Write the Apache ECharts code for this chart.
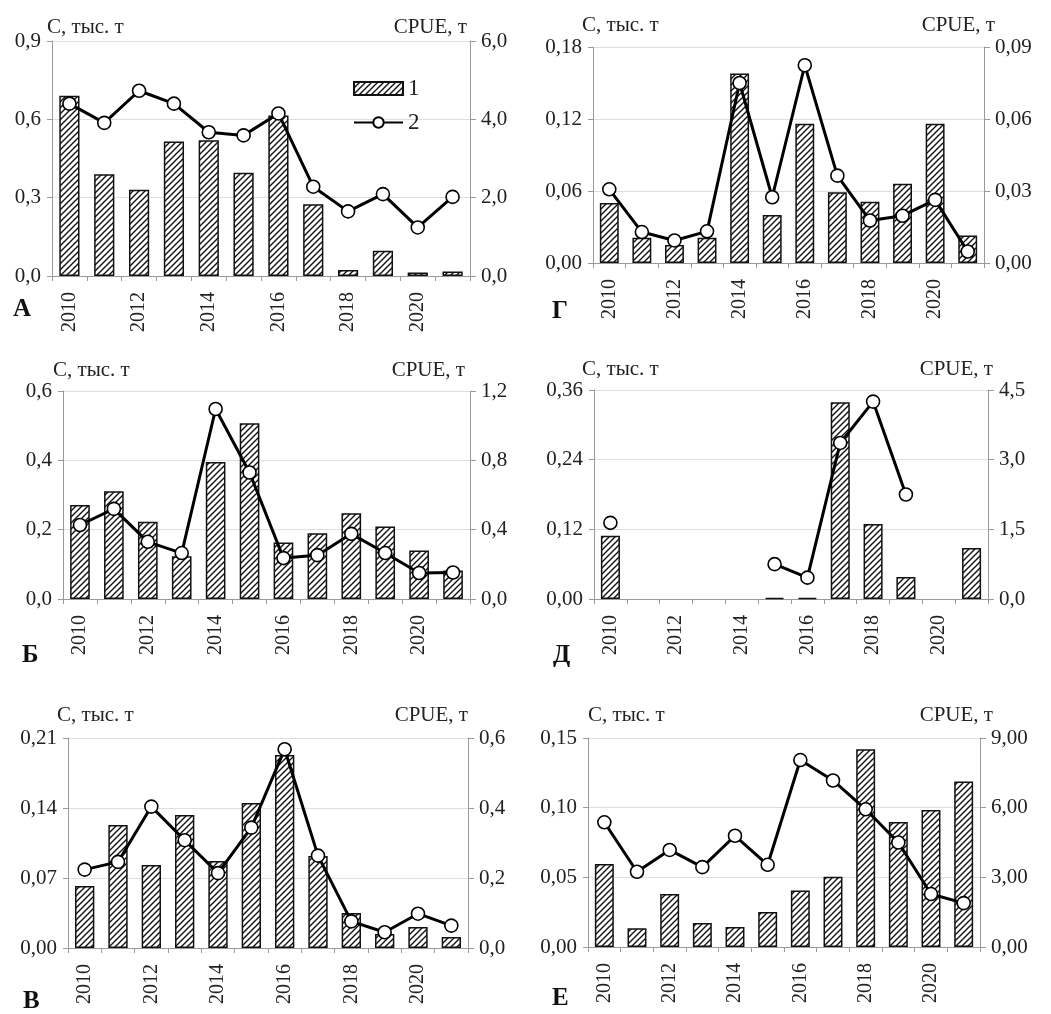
<!DOCTYPE html>
<html>
<head>
<meta charset="utf-8">
<script src="https://cdn.jsdelivr.net/npm/echarts@6/dist/echarts.min.js"></script>
<style>
html,body{margin:0;padding:0;background:#fff;}
#chart{width:1051px;height:1014px;}
</style>
</head>
<body>
<div id="chart"></div>
<script>
// ---------- DATA ----------
const years = ['2010','2011','2012','2013','2014','2015','2016','2017','2018','2019','2020','2021'];

// Panel А
const catchA = [0.69, 0.39, 0.33, 0.515, 0.52, 0.395, 0.615, 0.275, 0.023, 0.097, 0.013, 0.017];
const cpueA  = [4.40, 3.91, 4.73, 4.40, 3.67, 3.59, 4.15, 2.28, 1.65, 2.09, 1.24, 2.02];
// Panel Б
const catchB = [0.271, 0.311, 0.223, 0.123, 0.395, 0.507, 0.163, 0.190, 0.247, 0.209, 0.140, 0.082];
const cpueB  = [0.427, 0.52, 0.33, 0.265, 1.096, 0.73, 0.236, 0.253, 0.376, 0.265, 0.15, 0.153];
// Panel В
const catchV = [0.062, 0.123, 0.083, 0.133, 0.087, 0.145, 0.193, 0.092, 0.035, 0.014, 0.021, 0.011];
const cpueV  = [0.224, 0.246, 0.404, 0.308, 0.214, 0.344, 0.568, 0.264, 0.076, 0.045, 0.098, 0.064];
// Panel Г
const catchG = [0.050, 0.021, 0.015, 0.021, 0.158, 0.040, 0.116, 0.059, 0.051, 0.066, 0.116, 0.023];
const cpueG  = [0.0307, 0.0129, 0.0094, 0.0132, 0.075, 0.0274, 0.0824, 0.0364, 0.0177, 0.0197, 0.0263, 0.0048];
// Panel Д
const catchD = [0.109, null, null, null, null, 0.002, 0.002, 0.339, 0.129, 0.038, null, 0.088];
const cpueD  = [1.64, null, null, null, null, 0.75, 0.46, 3.36, 4.25, 2.25, null, null];
// Panel Е
const catchE = [0.0595, 0.0134, 0.038, 0.0172, 0.0143, 0.0251, 0.0406, 0.0504, 0.142, 0.0898, 0.0984, 0.1187];
const cpueE  = [5.37, 3.24, 4.18, 3.44, 4.79, 3.54, 8.05, 7.17, 5.93, 4.50, 2.28, 1.89];

const letters = ['А','Г','Б','Д','В','Е'];
const leftName = 'С, тыс. т';
const rightName = 'CPUE, т';
const legendNames = ['1','2'];

// ---------- LAYOUT / SCALES ----------
const panels = [
  {c: catchA, p: cpueA, lmax:0.9,  lint:0.3,  ld:1, rmax:6,    rint:2,    rd:1,
   g:{left:52, top:41, width:418, height:235}, L:[22,311], ng:[14,14], lo:-5, ro:-3},
  {c: catchG, p: cpueG, lmax:0.18, lint:0.06, ld:2, rmax:0.09, rint:0.03, rd:2,
   g:{left:593, top:47, width:391, height:216}, L:[561,313], ng:[22,22], lo:-11, ro:11},
  {c: catchB, p: cpueB, lmax:0.6,  lint:0.2,  ld:1, rmax:1.2,  rint:0.4,  rd:1,
   g:{left:63, top:391, width:407, height:208}, L:[31,657], ng:[21,21], lo:-10, ro:-5},
  {c: catchD, p: cpueD, lmax:0.36, lint:0.12, ld:2, rmax:4.5,  rint:1.5,  rd:1,
   g:{left:594, top:390, width:394, height:209}, L:[562,657], ng:[21,21], lo:-12, ro:5},
  {c: catchV, p: cpueV, lmax:0.21, lint:0.07, ld:2, rmax:0.6,  rint:0.2,  rd:1,
   g:{left:68, top:738, width:400, height:210}, L:[32,1003], ng:[23,23], lo:-11, ro:0},
  {c: catchE, p: cpueE, lmax:0.15, lint:0.05, ld:2, rmax:9,    rint:3,    rd:2,
   g:{left:588, top:738, width:392, height:209}, L:[561,1000], ng:[23,23], lo:0, ro:13}
];

function hatchPattern(){
  const s = 6;
  const c = document.createElement('canvas');
  c.width = s; c.height = s;
  const g = c.getContext('2d');
  g.fillStyle = '#fff'; g.fillRect(0,0,s,s);
  g.strokeStyle = '#111'; g.lineWidth = 1.4;
  g.beginPath();
  g.moveTo(0,s); g.lineTo(s,0);
  g.moveTo(-s/2,s/2); g.lineTo(s/2,-s/2);
  g.moveTo(s/2,s*1.5); g.lineTo(s*1.5,s/2);
  g.stroke();
  return c;
}
const hatch = {image: hatchPattern(), repeat: 'repeat'};

const FONT = '"Liberation Serif", "Times New Roman", serif';
const HFS = 21;   // horizontal text size
const fmt = d => v => v.toFixed(d).replace('.', ',');
const axisGray = '#9a9a9a';

const grid = [], xAxis = [], yAxis = [], series = [], graphic = [];
panels.forEach((P, i) => {
  grid.push(Object.assign({}, P.g));
  xAxis.push({
    type:'category', gridIndex:i, data: years,
    axisLine:{lineStyle:{color:axisGray, width:1}},
    axisTick:{show:true, interval:0, length:5, lineStyle:{color:axisGray}},
    axisLabel:{interval:1, rotate:90, margin:16, fontFamily:FONT, fontSize:20, color:'#222'},
    splitLine:{show:false}
  });
  yAxis.push({
    type:'value', gridIndex:i, min:0, max:P.lmax, interval:P.lint, position:'left',
    name:leftName, nameLocation:'end', nameGap:P.ng[0],
    nameTextStyle:{fontFamily:FONT, fontSize:HFS, color:'#222', align:'left', verticalAlign:'middle', padding:[0,0,0,P.lo]},
    axisLine:{show:true, lineStyle:{color:axisGray}},
    axisTick:{show:true, length:5, lineStyle:{color:axisGray}},
    axisLabel:{formatter:fmt(P.ld), margin:11, fontFamily:FONT, fontSize:HFS, color:'#222'},
    splitLine:{show:true, lineStyle:{color:'#dedede', width:1}}
  });
  yAxis.push({
    type:'value', gridIndex:i, min:0, max:P.rmax, interval:P.rint, position:'right',
    name:rightName, nameLocation:'end', nameGap:P.ng[1],
    nameTextStyle:{fontFamily:FONT, fontSize:HFS, color:'#222', align:'right', verticalAlign:'middle', padding:[0,-P.ro,0,0]},
    axisLine:{show:true, lineStyle:{color:axisGray}},
    axisTick:{show:true, length:6, lineStyle:{color:axisGray}},
    axisLabel:{formatter:fmt(P.rd), margin:11, fontFamily:FONT, fontSize:HFS, color:'#222'},
    splitLine:{show:false}
  });
  series.push({
    name: i === 0 ? legendNames[0] : 'c' + i,
    type:'bar', xAxisIndex:i, yAxisIndex:2*i, data:P.c,
    barCategoryGap:'42%',
    itemStyle:{color:hatch, borderColor:'#111', borderWidth:1.5},
    z:2
  });
  series.push({
    name: i === 0 ? legendNames[1] : 'p' + i,
    type:'line', xAxisIndex:i, yAxisIndex:2*i+1, data:P.p,
    connectNulls:false, symbol:'circle', symbolSize:13, showSymbol:true,
    lineStyle:{color:'#000', width:3},
    itemStyle:{color:'#fff', borderColor:'#000', borderWidth:1.6},
    z:3
  });
  graphic.push({
    type:'text', left:P.L[0] - 9, top:P.L[1] - 14,
    style:{text:letters[i], font:'bold 25px ' + FONT, fill:'#111'}
  });
});

const chart = echarts.init(document.getElementById('chart'), null, {renderer:'canvas'});
chart.setOption({
  animation:false,
  backgroundColor:'#fff',
  grid, xAxis, yAxis, series, graphic,
  legend:{
    data: [{name:legendNames[0], icon:'rect'}, {name:legendNames[1]}],
    orient:'vertical', left:353, top:77, padding:0,
    itemWidth:49, itemHeight:13, itemGap:11,
    textStyle:{fontFamily:FONT, fontSize:23, color:'#222'}
  }
});
</script>
</body>
</html>
